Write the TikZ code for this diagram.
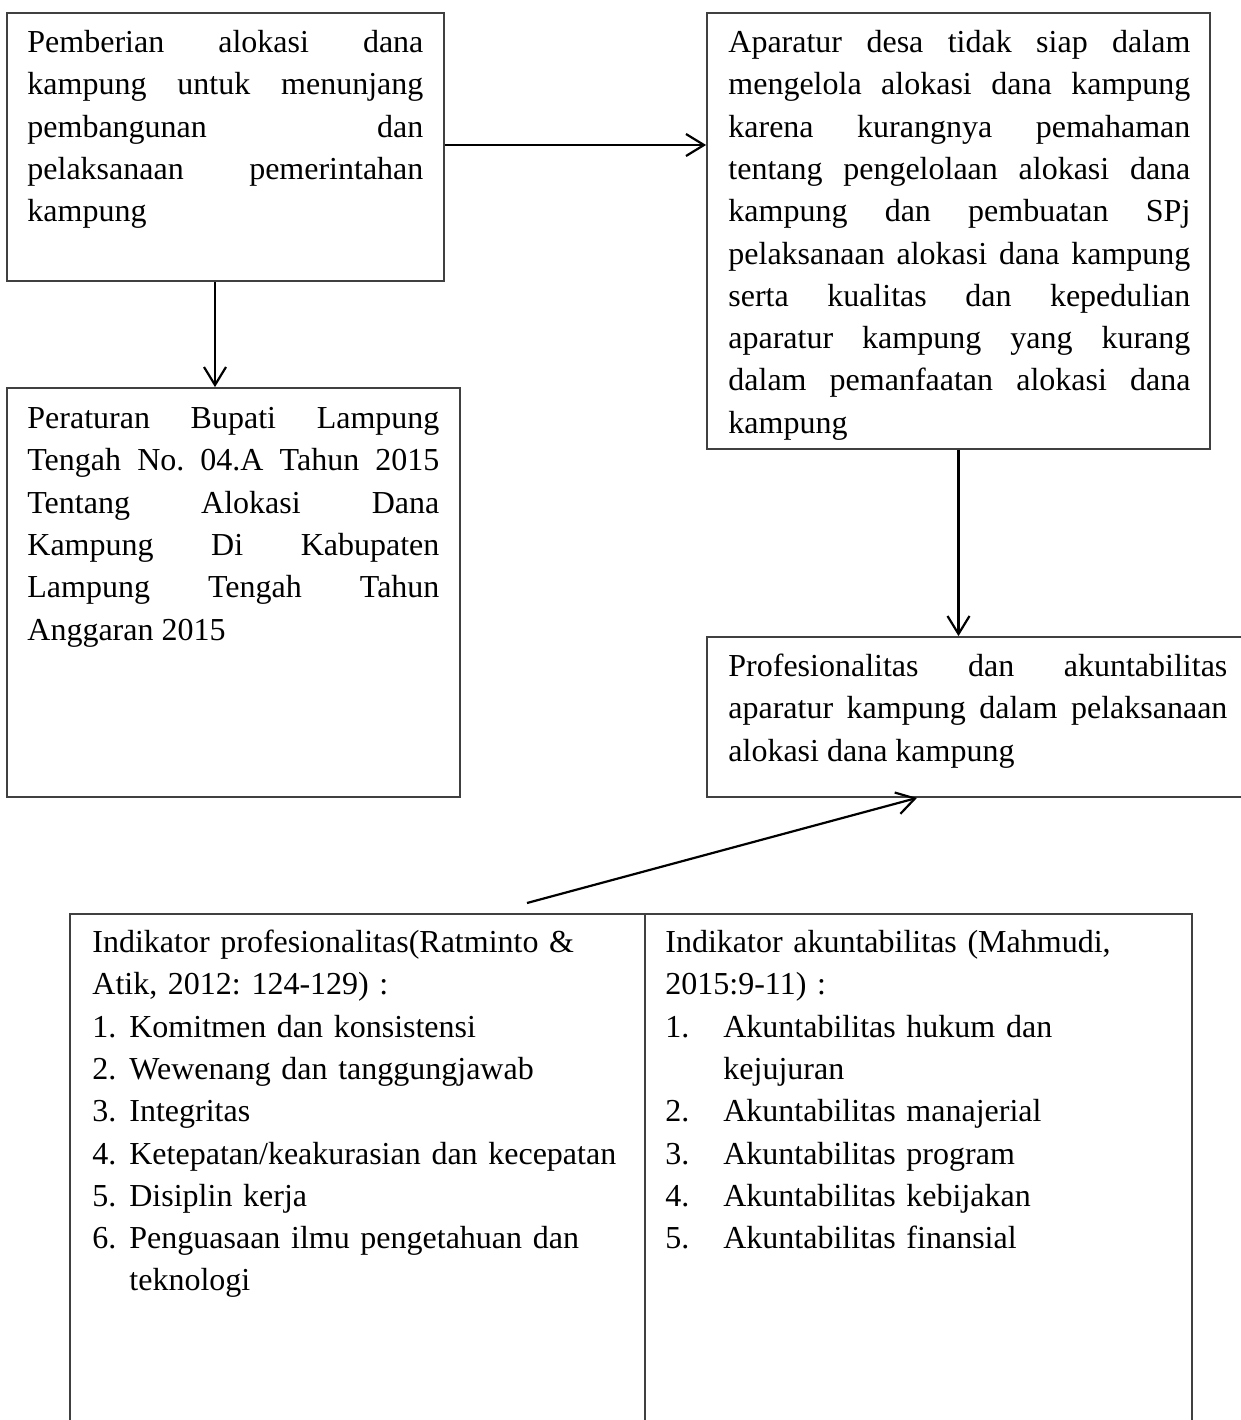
\documentclass[tikz,border=0pt]{standalone}
\usepackage{fontspec}
\setmainfont{Liberation Serif}
\usetikzlibrary{arrows.meta,fit}
\begin{document}
\begin{tikzpicture}[x=0.5pt,y=-0.5pt,
  box/.style={draw=black!75, line width=0.9pt, inner sep=0pt},
  txt/.style={anchor=north west, inner sep=0pt, align=justify,
    font={\fontsize{16}{21.16}\selectfont\frenchspacing\tolerance=10000\hbadness=10000\hyphenpenalty=10000}},
  ltxt/.style={txt, align=left},
  arr/.style={line width=1.1pt, -{Straight Barb[length=9pt,width=11pt]}}]
\fill[white] (0,0) rectangle (1241,1420);
\useasboundingbox (0,0) rectangle (1241,1420);
\clip (0,0) rectangle (1241,1420);

% boxes
\node[box, fit={(7,13) (444,281)}] (b1) {};
\node[box, fit={(707,13) (1210,449)}] (b2) {};
\node[box, fit={(7,388) (460,797)}] (b3) {};
\node[box, fit={(707,637) (1270,797)}] (b4) {};
\node[box, fit={(70,914) (645,1440)}] (c1) {};
\node[box, fit={(645,914) (1192,1440)}] (c2) {};

% texts
\node[txt, text width=198pt] (t1) at (27,26) {\rule{0pt}{13pt}Pemberian alokasi dana\linebreak
kampung untuk menunjang\linebreak
pembangunan dan\linebreak
pelaksanaan pemerintahan\linebreak
kampung};

\node[txt, text width=231pt] (t2) at (728,26) {\rule{0pt}{13pt}Aparatur desa tidak siap dalam\linebreak
mengelola alokasi dana kampung\linebreak
karena kurangnya pemahaman\linebreak
tentang pengelolaan alokasi dana\linebreak
kampung dan pembuatan SPj\linebreak
pelaksanaan alokasi dana kampung\linebreak
serta kualitas dan kepedulian\linebreak
aparatur kampung yang kurang\linebreak
dalam pemanfaatan alokasi dana\linebreak
kampung};

\node[txt, text width=206pt] (t3) at (27,402) {\rule{0pt}{13pt}Peraturan Bupati Lampung\linebreak
Tengah No. 04.A Tahun 2015\linebreak
Tentang Alokasi Dana\linebreak
Kampung Di Kabupaten\linebreak
Lampung Tengah Tahun\linebreak
Anggaran 2015};

\node[txt, text width=249.5pt] (t4) at (728,650) {\rule{0pt}{13pt}Profesionalitas dan akuntabilitas\linebreak
aparatur kampung dalam pelaksanaan\linebreak
alokasi dana kampung};

\node[ltxt, text width=272pt] (t5) at (92,926) {\rule{0pt}{13pt}Indikator profesionalitas(Ratminto \&\\
Atik, 2012: 124-129) :\\
\makebox[18.5pt][l]{1.}Komitmen dan konsistensi\\
\makebox[18.5pt][l]{2.}Wewenang dan tanggungjawab\\
\makebox[18.5pt][l]{3.}Integritas\\
\makebox[18.5pt][l]{4.}Ketepatan/keakurasian dan kecepatan\\
\makebox[18.5pt][l]{5.}Disiplin kerja\\
\makebox[18.5pt][l]{6.}Penguasaan ilmu pengetahuan dan\\
\hspace*{18.5pt}teknologi};

\node[ltxt, text width=260pt] (t6) at (665,926) {\rule{0pt}{13pt}Indikator akuntabilitas (Mahmudi,\\
2015:9-11) :\\
\makebox[29pt][l]{1.}Akuntabilitas hukum dan\\
\hspace*{29pt}kejujuran\\
\makebox[29pt][l]{2.}Akuntabilitas manajerial\\
\makebox[29pt][l]{3.}Akuntabilitas program\\
\makebox[29pt][l]{4.}Akuntabilitas kebijakan\\
\makebox[29pt][l]{5.}Akuntabilitas finansial};

% connectors
\coordinate (y1) at (0,145);
\coordinate (x1) at (215,0);
\coordinate (s4) at (527,903);
\coordinate (x4) at (917,0);
\draw[arr] (b1.east |- y1) -- (b2.west |- y1);
\draw[arr] (b1.south -| x1) -- (b3.north -| x1);
\draw[arr] (b2.south) -- (b2.south |- b4.north);
\draw[arr] (s4) -- (b4.south -| x4);
\end{tikzpicture}
\end{document}
